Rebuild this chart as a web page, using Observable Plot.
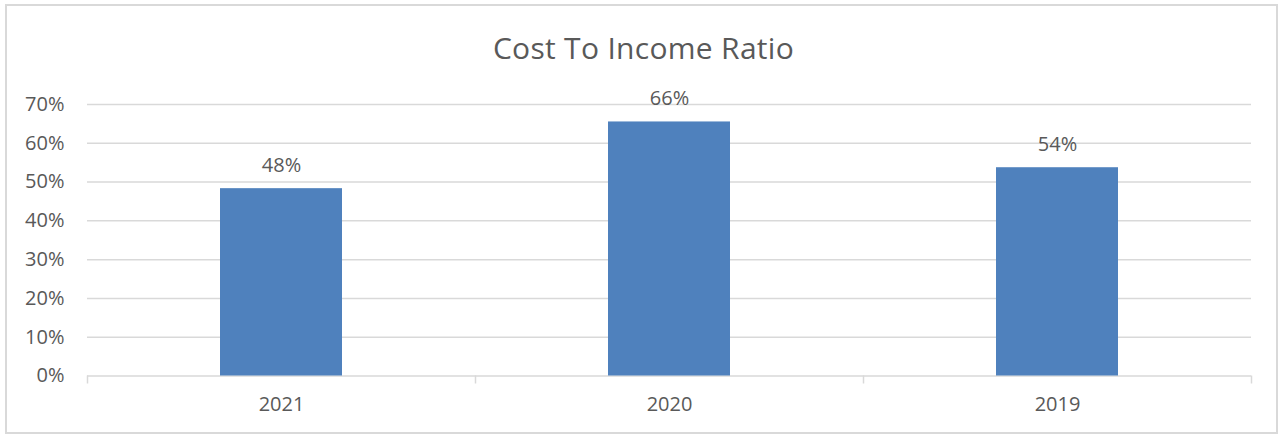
<!DOCTYPE html>
<html><head><meta charset="utf-8">
<script src="https://cdn.jsdelivr.net/npm/d3@7"></script>
<script src="https://cdn.jsdelivr.net/npm/@observablehq/plot@0.6"></script>
<style>
body{margin:0;background:#fff;font-family:"Open Sans","Liberation Sans",sans-serif;}
#wrap{position:relative;width:1285px;height:436px;overflow:hidden;}
#frame{position:absolute;left:5px;top:4px;width:1273px;height:430px;border:2px solid #d9d9d9;box-sizing:border-box;}
#title{position:absolute;left:0;top:33px;width:1287px;text-align:center;font-size:30px;line-height:30px;color:#595959;letter-spacing:0.3px;}
#chart{position:absolute;left:0;top:0;}
</style></head>
<body>
<div id="wrap"><div id="frame"></div><div id="title">Cost To Income Ratio</div><div id="chart"></div></div>
<script>
const years = ["2021","2020","2019"];
const ratios = [0.483, 0.655, 0.537];
const labels = ["48%","66%","54%"];
const yTicks = [0,0.1,0.2,0.3,0.4,0.5,0.6,0.7];

const data = years.map((y,i)=>({year:y, value:ratios[i], label:labels[i]}));
const W=1285, H=436, ml=87, mr=34, mt=104, mb=60.5;
const step=(W-ml-mr)/years.length;
const grey="#d9d9d9", txt="#595959";

const chart = Plot.plot({
  width:W, height:H, marginLeft:ml, marginRight:mr, marginTop:mt, marginBottom:mb,
  style:{fontFamily:"'Open Sans', 'Liberation Sans', sans-serif", fontSize:"20px", color:txt, background:"transparent"},
  x:{domain:years, paddingInner:0.686, paddingOuter:0.343, label:null},
  y:{domain:[0,0.7], label:null},
  marks:[
    Plot.gridY(yTicks,{stroke:grey, strokeOpacity:1, strokeWidth:1.5}),
    Plot.ruleX(years,{x:d=>d, y1:0, y2:0, insetBottom:-8, dx:-step/2, stroke:grey, strokeWidth:1.5}),
    Plot.ruleX([years[years.length-1]],{x:d=>d, y1:0, y2:0, insetBottom:-8, dx:step/2, stroke:grey, strokeWidth:1.5}),
    Plot.barY(data,{x:"year", y:"value", fill:"#4f81bd"}),
    Plot.text(data,{x:"year", y:"value", text:"label", lineAnchor:"bottom", dy:-17, fill:txt, fontSize:20}),
    Plot.axisY(yTicks,{tickFormat:d=>Math.round(d*100)+"%", tickSize:0, tickPadding:23, fill:txt, fontSize:20}),
    Plot.axisX({tickSize:0, tickPadding:21, fill:txt, fontSize:20})
  ]
});
document.getElementById("chart").appendChild(chart);
</script>
</body></html>
